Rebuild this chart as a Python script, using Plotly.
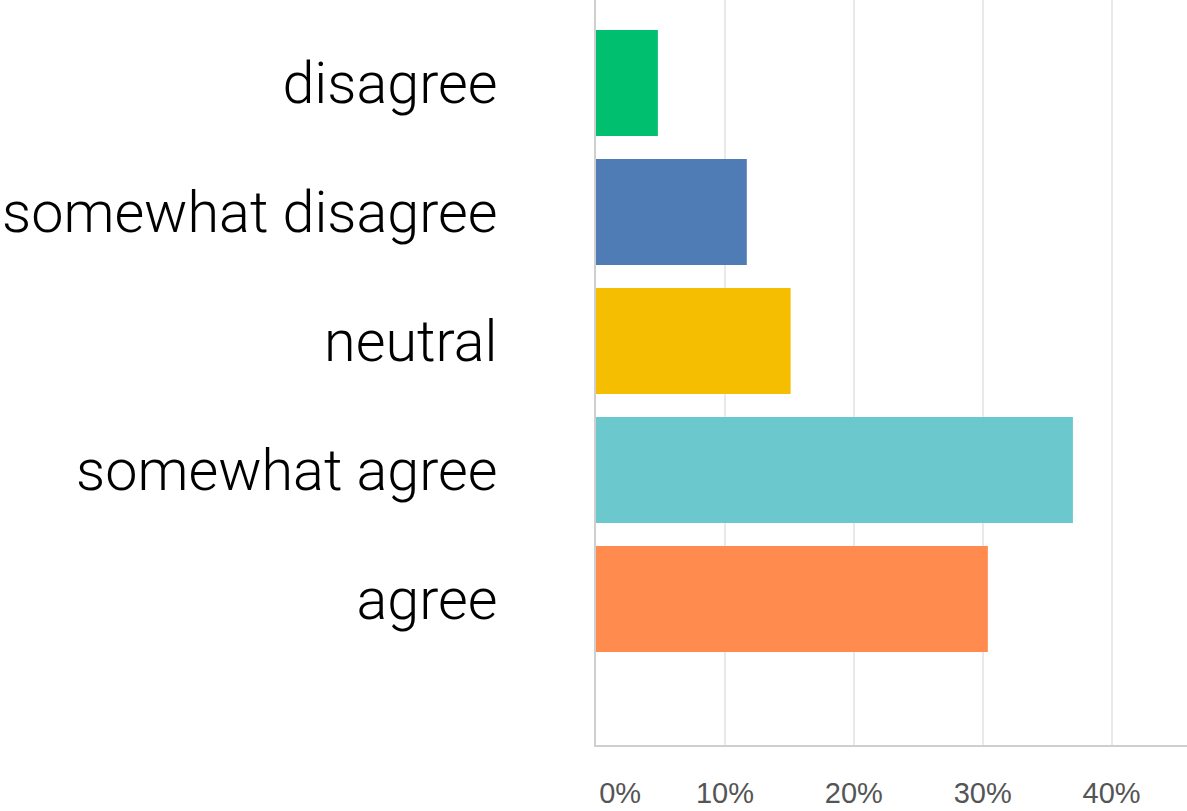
import plotly.graph_objects as go

categories = ["disagree", "somewhat disagree", "neutral", "somewhat agree", "agree"]
values = [4.8, 11.7, 15.1, 37.0, 30.4]
colors = ["#00BF6F", "#507CB6", "#F6BE00", "#6BC8CD", "#FF8B4F"]
tick_vals = [0, 10, 20, 30, 40]
tick_text = ["\u00a0\u00a0\u00a0\u00a0\u00a0\u00a00%", "10%", "20%", "30%", "40%"]

fig = go.Figure(
    go.Bar(
        x=values,
        y=categories,
        orientation="h",
        marker=dict(color=colors, line=dict(width=0)),
        hoverinfo="skip",
    )
)

fig.update_layout(
    width=1187,
    height=811,
    margin=dict(l=596, r=0, t=0, b=66),
    paper_bgcolor="white",
    plot_bgcolor="white",
    bargap=0.178,
    showlegend=False,
    font=dict(family="Roboto, Liberation Sans, Arial, sans-serif"),
)

fig.update_xaxes(
    automargin=False,
    range=[0, 45.85],
    tickvals=tick_vals,
    ticktext=tick_text,
    tickfont=dict(size=29, color="#555555", family="Liberation Sans, Arial, sans-serif"),
    showgrid=True,
    gridcolor="#E9E9E9",
    gridwidth=2,
    zeroline=False,
    showline=True,
    linecolor="#CFCFCF",
    linewidth=2,
    ticks="",
    ticklabelstandoff=21,
)

fig.update_yaxes(
    automargin=False,
    range=[5.132, -0.643],
    tickfont=dict(size=57.5, color="#000000", weight=300, family="Roboto, Liberation Sans, Arial, sans-serif"),
    showgrid=False,
    zeroline=False,
    showline=True,
    linecolor="#CFCFCF",
    linewidth=2,
    ticks="",
    ticklabelstandoff=85,
)

fig.write_html(
    "out.html",
    config={"displayModeBar": False},
    post_script="document.body.style.margin='0';document.body.style.overflow='hidden';",
)
